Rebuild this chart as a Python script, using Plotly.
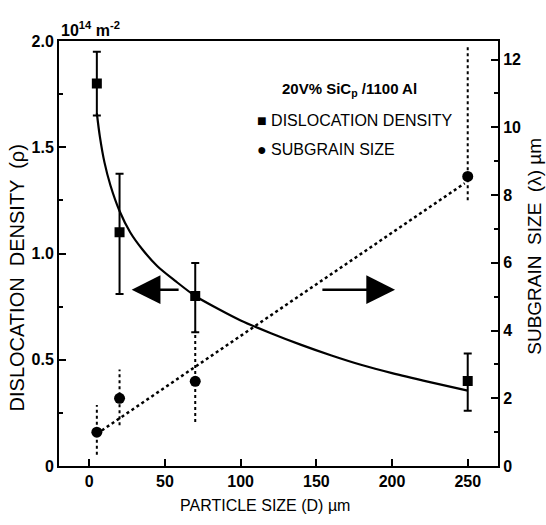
import plotly.graph_objects as go

# ---- data ----
particle_size = [5, 20, 70, 250]

disloc_density = [1.80, 1.10, 0.80, 0.40]
disloc_err_hi = [1.95, 1.375, 0.955, 0.53]
disloc_err_lo = [1.65, 0.81, 0.63, 0.26]

subgrain_size = [1.0, 2.0, 2.5, 8.55]
subgrain_err_hi = [1.8, 2.85, 4.0, 12.4]
subgrain_err_lo = [0.33, 1.2, 1.3, 7.85]

curve_x = [5, 7, 10, 14, 20, 27, 35, 45, 57, 70, 85, 100, 120, 140, 160, 180, 200, 225, 250]
curve_y = [1.66, 1.55, 1.43, 1.32, 1.20, 1.10, 1.02, 0.94, 0.87, 0.80, 0.74, 0.685,
           0.625, 0.57, 0.52, 0.475, 0.437, 0.395, 0.355]

fit_x = [5, 248]
fit_y = [0.95, 8.35]

x_ticks = [0, 50, 100, 150, 200, 250]
left_ticks = [0, 0.5, 1.0, 1.5, 2.0]
left_labels = ["0", "0.5", "1.0", "1.5", "2.0"]
right_ticks = [0, 2, 4, 6, 8, 10, 12]

FONT = "Liberation Sans, Arial, sans-serif"
BLACK = "black"

fig = go.Figure()

# fitted curve for dislocation density (solid)
fig.add_trace(go.Scatter(x=curve_x, y=curve_y, mode="lines",
                         line=dict(color=BLACK, width=2.2, shape="spline", smoothing=0.8),
                         showlegend=False, hoverinfo="skip"))

# dislocation density points with error bars
fig.add_trace(go.Scatter(
    x=particle_size, y=disloc_density, mode="markers",
    marker=dict(symbol="square", size=10, color=BLACK),
    error_y=dict(type="data", symmetric=False,
                 array=[h - v for h, v in zip(disloc_err_hi, disloc_density)],
                 arrayminus=[v - l for l, v in zip(disloc_err_lo, disloc_density)],
                 color=BLACK, thickness=2, width=4),
    showlegend=False))

# subgrain dotted fit line
fig.add_trace(go.Scatter(x=fit_x, y=fit_y, mode="lines", yaxis="y2",
                         line=dict(color=BLACK, width=2.5, dash="dot"),
                         showlegend=False, hoverinfo="skip"))

# subgrain dotted error bars
eb_x, eb_y = [], []
for xv, lo, hi in zip(particle_size, subgrain_err_lo, subgrain_err_hi):
    eb_x += [xv, xv, None]
    eb_y += [lo, hi, None]
fig.add_trace(go.Scatter(x=eb_x, y=eb_y, mode="lines", yaxis="y2",
                         line=dict(color=BLACK, width=2, dash="dot"),
                         showlegend=False, hoverinfo="skip"))

# subgrain points
fig.add_trace(go.Scatter(x=particle_size, y=subgrain_size, mode="markers", yaxis="y2",
                         marker=dict(symbol="circle", size=11, color=BLACK),
                         showlegend=False))

tickfont = dict(family=FONT, size=16, color=BLACK, weight="bold")

fig.update_layout(
    width=546, height=525,
    margin=dict(l=59, r=48, t=41, b=59),
    paper_bgcolor="white", plot_bgcolor="white",
    font=dict(family=FONT, color=BLACK),
    xaxis=dict(range=[-20, 270], tickvals=x_ticks, ticks="inside", ticklen=7,
               tickwidth=2, tickcolor=BLACK, showline=True, linecolor=BLACK,
               linewidth=2, mirror=True, showgrid=False, zeroline=False,
               tickfont=tickfont),
    yaxis=dict(range=[0, 2.0], tickvals=left_ticks, ticktext=left_labels,
               ticks="inside", ticklen=7, tickwidth=2, tickcolor=BLACK,
               minor=dict(dtick=0.25, ticks="inside", ticklen=4, tickwidth=2, tickcolor=BLACK),
               showline=True, linecolor=BLACK, linewidth=2, showgrid=False,
               zeroline=False, tickfont=tickfont),
    yaxis2=dict(range=[0, 12.55], tickvals=right_ticks, overlaying="y", side="right",
                ticks="inside", ticklen=7, tickwidth=2, tickcolor=BLACK,
                minor=dict(dtick=1, ticks="inside", ticklen=4, tickwidth=2, tickcolor=BLACK),
                showline=True, linecolor=BLACK, linewidth=2, showgrid=False,
                zeroline=False, tickfont=tickfont),
)

annots = [
    dict(text="PARTICLE SIZE (D) µm", xref="paper", yref="paper", x=0.469, y=-0.092,
         showarrow=False, font=dict(size=16), xanchor="center", yanchor="middle"),
    dict(text="DISLOCATION  DENSITY  (ρ)", xref="paper", yref="paper", x=-0.095, y=0.442,
         showarrow=False, textangle=-90, font=dict(size=20), xanchor="center", yanchor="middle"),
    dict(text="SUBGRAIN  SIZE  (λ) µm", xref="paper", yref="paper", x=1.084, y=0.518,
         showarrow=False, textangle=-90, font=dict(size=19), xanchor="center", yanchor="middle"),
    dict(text="10<sup>14</sup> m<sup>-2</sup>", xref="paper", yref="paper", x=0.0, y=1.0,
         showarrow=False, font=dict(size=16, weight="bold"), xanchor="left", yanchor="bottom"),
    dict(text="20V% SiC<sub>p</sub> /1100 Al", xref="paper", yref="paper", x=0.503, y=0.885,
         showarrow=False, font=dict(size=15, weight="bold"), xanchor="left", yanchor="middle"),
    dict(text="■ DISLOCATION DENSITY", xref="paper", yref="paper", x=0.446, y=0.814,
         showarrow=False, font=dict(size=16), xanchor="left", yanchor="middle"),
    dict(text="● SUBGRAIN SIZE", xref="paper", yref="paper", x=0.446, y=0.744,
         showarrow=False, font=dict(size=16), xanchor="left", yanchor="middle"),
    # arrows
    dict(x=28, y=0.83, ax=60, ay=0.83, xref="x", yref="y", axref="x", ayref="y",
         text="", showarrow=True, arrowhead=2, arrowsize=2.3, arrowwidth=2.5, arrowcolor=BLACK),
    dict(x=202, y=0.83, ax=153, ay=0.83, xref="x", yref="y", axref="x", ayref="y",
         text="", showarrow=True, arrowhead=2, arrowsize=2.3, arrowwidth=2.5, arrowcolor=BLACK),
]
fig.update_layout(annotations=annots)

fig.write_html("out.html")
